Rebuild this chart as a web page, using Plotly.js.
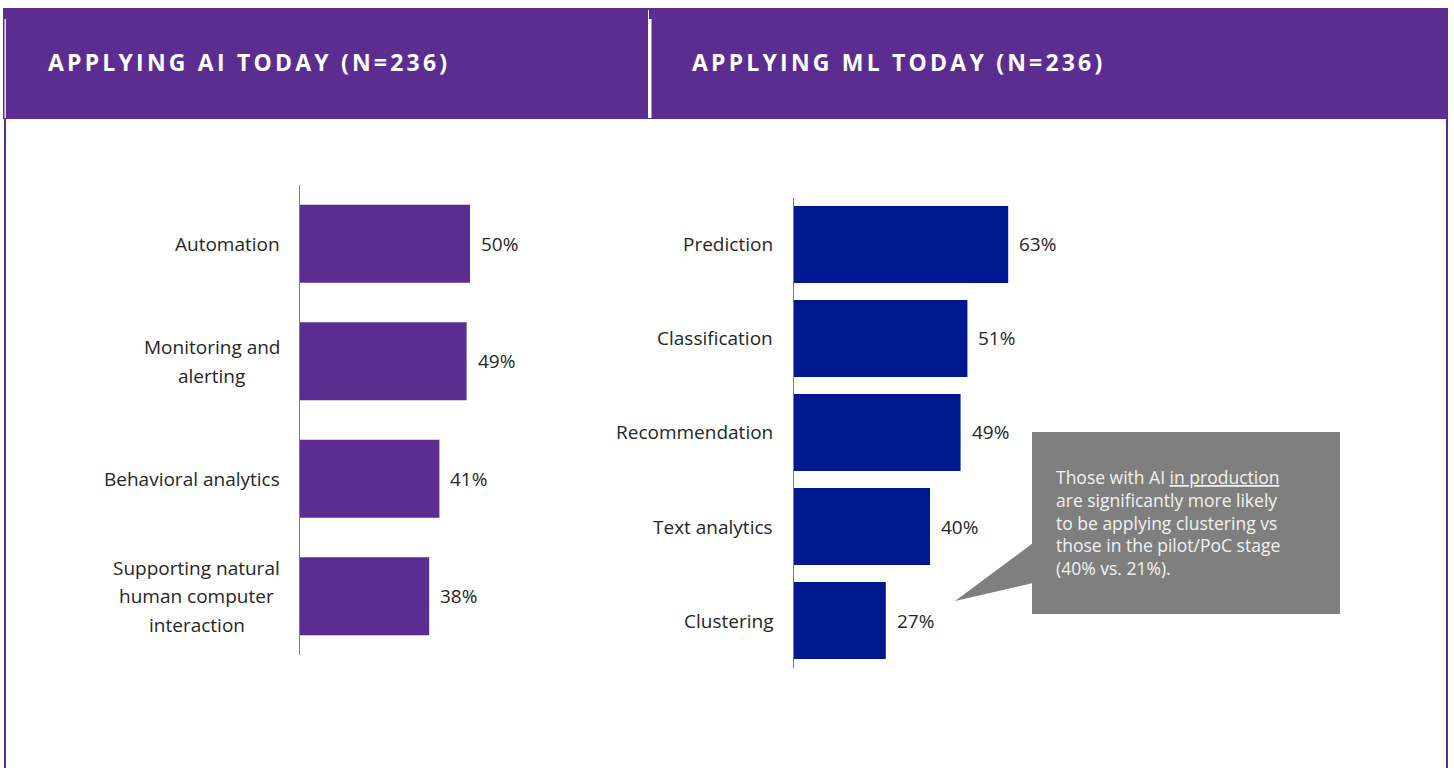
<!DOCTYPE html>
<html>
<head>
<meta charset="utf-8">
<script src="https://cdn.plot.ly/plotly-3.0.1.min.js"></script>
<style>
  html, body { margin: 0; padding: 0; background: #ffffff; }
  #chart { width: 1454px; height: 768px; }
  .annotation[data-index="0"] text, .annotation[data-index="1"] text { letter-spacing: 3.2px; }
</style>
</head>
<body>
<div id="chart"></div>
<script>
// ---- data ----
const aiTitle = 'APPLYING AI TODAY (N=236)';
const mlTitle = 'APPLYING ML TODAY (N=236)';
const aiCategories = ['Automation', 'Monitoring and<br>alerting', 'Behavioral analytics', 'Supporting natural<br>human computer<br>interaction'];
const aiValues = [50, 49, 41, 38];
const mlCategories = ['Prediction', 'Classification', 'Recommendation', 'Text analytics', 'Clustering'];
const mlValues = [63, 51, 49, 40, 27];
const calloutLines = [
  'Those with AI <span style="text-decoration:underline">in production</span>',
  'are significantly more likely',
  'to be applying clustering vs',
  'those in the pilot/PoC stage',
  '(40% vs. 21%).'
];

// ---- page geometry ----
const W = 1454, H = 768;
const px = v => v / W;
const py = v => 1 - v / H;

const PURPLE = '#5C2D91';
const NAVY = '#00188F';
const TXT = '#262626';
const FONT = 'Open Sans, sans-serif';
const LABEL_SIZE = 19;
const LINE_H = 28.5;

function textWidth(str, size) {
  const ctx = document.createElement('canvas').getContext('2d');
  ctx.font = size + 'px "Open Sans"';
  return ctx.measureText(str).width;
}

const traces = [
  {
    type: 'bar', orientation: 'h',
    x: aiValues, y: aiCategories,
    xaxis: 'x', yaxis: 'y',
    marker: { color: PURPLE },
    width: 0.664,
    hoverinfo: 'skip'
  },
  {
    type: 'bar', orientation: 'h',
    x: mlValues, y: mlCategories,
    xaxis: 'x2', yaxis: 'y2',
    marker: { color: NAVY },
    width: 0.82,
    hoverinfo: 'skip'
  }
];

const annotations = [
  { text: aiTitle, xref: 'paper', yref: 'paper', x: px(249), y: py(62), xanchor: 'center', yanchor: 'middle',
    showarrow: false, font: { family: FONT, size: 23, color: '#ffffff', weight: 700 } },
  { text: mlTitle, xref: 'paper', yref: 'paper', x: px(898), y: py(62), xanchor: 'center', yanchor: 'middle',
    showarrow: false, font: { family: FONT, size: 23, color: '#ffffff', weight: 700 } }
];

function addCategoryLabels(cats, yref, rightEdge) {
  cats.forEach(cat => {
    const lines = cat.split('<br>');
    const n = lines.length;
    const maxW = Math.max(...lines.map(l => textWidth(l, LABEL_SIZE)));
    lines.forEach((line, i) => {
      annotations.push({
        text: line, xref: 'paper', yref: yref, x: px(rightEdge), y: cat,
        xanchor: 'center', yanchor: 'middle', xshift: -maxW / 2,
        yshift: ((n - 1) / 2 - i) * LINE_H,
        showarrow: false, font: { family: FONT, size: LABEL_SIZE, color: TXT }
      });
    });
  });
}
function addValueLabels(cats, vals, xref, yref) {
  cats.forEach((cat, i) => {
    annotations.push({
      text: vals[i] + '%', xref: xref, yref: yref, x: vals[i], y: cat,
      xanchor: 'left', yanchor: 'middle', xshift: 9,
      showarrow: false, font: { family: FONT, size: LABEL_SIZE, color: TXT }
    });
  });
}
addCategoryLabels(aiCategories, 'y', 280);
addCategoryLabels(mlCategories, 'y2', 773);
addValueLabels(aiCategories, aiValues, 'x', 'y');
addValueLabels(mlCategories, mlValues, 'x2', 'y2');

annotations.push({
  text: calloutLines.join('<br>'), xref: 'paper', yref: 'paper', x: px(1055), y: py(464),
  xanchor: 'left', yanchor: 'top', align: 'left', showarrow: false, borderpad: 0,
  font: { family: FONT, size: 17.5, color: '#F2F2F2' }
});

const shapes = [
  // header band
  { type: 'rect', xref: 'paper', yref: 'paper', x0: px(3), x1: px(1448), y0: py(119), y1: py(8),
    fillcolor: PURPLE, line: { width: 0 }, layer: 'below' },
  // white thin line at left of header
  { type: 'rect', xref: 'paper', yref: 'paper', x0: px(4.5), x1: px(5.8), y0: py(118), y1: py(19),
    fillcolor: '#ffffff', line: { width: 0 }, layer: 'below' },
  // white divider
  { type: 'rect', xref: 'paper', yref: 'paper', x0: px(648), x1: px(651.5), y0: py(118), y1: py(19),
    fillcolor: '#ffffff', line: { width: 0 }, layer: 'below' },
  { type: 'rect', xref: 'paper', yref: 'paper', x0: px(648), x1: px(649), y0: py(19), y1: py(10),
    fillcolor: '#ffffff', line: { width: 0 }, layer: 'below' },
  // side borders
  { type: 'rect', xref: 'paper', yref: 'paper', x0: px(4), x1: px(6), y0: 0, y1: py(119),
    fillcolor: PURPLE, line: { width: 0 }, layer: 'below' },
  { type: 'rect', xref: 'paper', yref: 'paper', x0: px(1446), x1: px(1448), y0: 0, y1: py(119),
    fillcolor: PURPLE, line: { width: 0 }, layer: 'below' },
  // callout
  { type: 'rect', xref: 'paper', yref: 'paper', x0: px(1032), x1: px(1340), y0: py(614), y1: py(432),
    fillcolor: '#7F7F7F', line: { width: 0 }, layer: 'above' },
  { type: 'path', xref: 'paper', yref: 'paper',
    path: 'M ' + px(955) + ' ' + py(601) + ' L ' + px(1033) + ' ' + py(543) + ' L ' + px(1033) + ' ' + py(583) + ' Z',
    fillcolor: '#7F7F7F', line: { width: 0 }, layer: 'above' }
];

const axisCommon = { showgrid: false, zeroline: false, showticklabels: false, ticks: '', fixedrange: true };

const layout = {
  width: W, height: H,
  margin: { l: 0, r: 0, t: 0, b: 0 },
  paper_bgcolor: '#ffffff', plot_bgcolor: 'rgba(0,0,0,0)',
  showlegend: false,
  font: { family: FONT, color: TXT },
  xaxis: Object.assign({}, axisCommon, { domain: [px(300), px(640)], range: [0, 100], anchor: 'y', showline: false }),
  yaxis: Object.assign({}, axisCommon, { domain: [py(655), py(185)], autorange: 'reversed', anchor: 'x',
    type: 'category', showline: true, linecolor: '#7F7F7F', linewidth: 1 }),
  xaxis2: Object.assign({}, axisCommon, { domain: [px(794), px(1134)], range: [0, 100], anchor: 'y2', showline: false }),
  yaxis2: Object.assign({}, axisCommon, { domain: [py(667.5), py(197.5)], autorange: 'reversed', anchor: 'x2',
    type: 'category', showline: true, linecolor: '#7F7F7F', linewidth: 1 }),
  shapes: shapes,
  annotations: annotations
};

Plotly.newPlot('chart', traces, layout, { displayModeBar: false, staticPlot: true });
</script>
</body>
</html>
